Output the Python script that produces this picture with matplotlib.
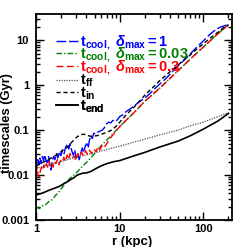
import matplotlib
matplotlib.use('Agg')
import matplotlib.pyplot as plt
from matplotlib.lines import Line2D

plt.rcParams['font.family'] = 'Liberation Sans'
plt.rcParams['font.weight'] = 'bold'
plt.rcParams['mathtext.fontset'] = 'custom'
plt.rcParams['mathtext.rm'] = 'Liberation Sans:bold'
plt.rcParams['mathtext.it'] = 'Liberation Sans:italic:bold'
plt.rcParams['mathtext.bf'] = 'Liberation Sans:bold'

# t_cool, delta_max = 1
r_blue = [1.0, 1.02, 1.05, 1.08, 1.11, 1.15, 1.19, 1.23, 1.27, 1.31, 1.36, 1.41, 1.46, 1.51,
          1.56, 1.62, 1.68, 1.75, 1.82, 1.9, 1.98, 2.07, 2.16, 2.26, 2.36, 2.46, 2.56, 2.67,
          2.78, 2.9, 3.02, 3.15, 3.28, 3.42, 3.56, 3.72, 3.88, 4.05, 4.2, 4.35, 4.5, 4.7, 4.9,
          5.2, 5.5, 5.8, 6.2, 6.6, 7.0, 7.4, 7.8, 8.3, 8.8, 9.4, 10, 11, 12, 13.5, 15, 17, 20,
          23, 26, 30, 35, 40, 45, 50, 60, 70, 85, 100, 120, 140, 160, 180, 200]
t_blue = [0.011, 0.016, 0.022, 0.017, 0.024, 0.018, 0.026, 0.021, 0.028, 0.022, 0.019, 0.026,
          0.016, 0.013, 0.02, 0.026, 0.022, 0.03, 0.024, 0.033, 0.027, 0.036, 0.03, 0.042, 0.048,
          0.038, 0.05, 0.035, 0.028, 0.036, 0.024, 0.03, 0.022, 0.03, 0.04, 0.032, 0.045, 0.05,
          0.04, 0.06, 0.075, 0.065, 0.085, 0.082, 0.09, 0.095, 0.1, 0.115, 0.14, 0.15, 0.145,
          0.165, 0.155, 0.17, 0.2, 0.22, 0.26, 0.3, 0.35, 0.42, 0.52, 0.65, 0.82, 1.05, 1.35,
          1.75, 2.2, 2.7, 3.7, 5.0, 7.2, 9.6, 13.5, 17, 19.5, 21, 22.5]

# t_cool, delta_max = 0.03
r_green = [1.0, 1.05, 1.1, 1.15, 1.2, 1.3, 1.43, 1.55, 1.7, 1.85, 2.0, 2.16, 2.3, 2.6, 3.0,
           3.5, 4.0, 5.0, 6.0, 7.0, 8.0, 10, 15, 20, 30, 50, 70, 100, 150, 200]
t_green = [0.0018, 0.0019, 0.0018, 0.002, 0.0021, 0.0022, 0.0026, 0.0028, 0.0035, 0.0041,
           0.005, 0.006, 0.007, 0.0088, 0.011, 0.015, 0.019, 0.03, 0.045, 0.06, 0.077, 0.12,
           0.25, 0.44, 0.85, 2.1, 3.8, 7.0, 14.0, 22.0]

# t_cool, delta_max = 0.3
r_red = [1.0, 1.03, 1.06, 1.09, 1.12, 1.16, 1.2, 1.24, 1.28, 1.33, 1.38, 1.43, 1.48, 1.54, 1.6,
         1.66, 1.72, 1.8, 1.88, 1.96, 2.05, 2.15, 2.25, 2.35, 2.45, 2.55, 2.7, 2.85, 3.0, 3.15,
         3.3, 3.5, 3.7, 3.9, 4.1, 4.35, 4.6, 4.9, 5.2, 5.5, 5.8, 6.1, 6.5, 6.9, 7.5, 8.0, 10,
         15, 20, 30, 50, 70, 100, 150, 200]
t_red = [0.011, 0.015, 0.01, 0.009, 0.012, 0.015, 0.013, 0.017, 0.014, 0.018, 0.015, 0.02, 0.016,
         0.019, 0.015, 0.02, 0.018, 0.022, 0.017, 0.021, 0.019, 0.025, 0.02, 0.028, 0.022, 0.03,
         0.024, 0.027, 0.021, 0.03, 0.025, 0.032, 0.027, 0.035, 0.029, 0.036, 0.03, 0.038, 0.033,
         0.042, 0.036, 0.045, 0.04, 0.048, 0.062, 0.072, 0.12, 0.25, 0.44, 0.85, 2.1, 3.8, 7.0,
         14.0, 22.0]

# free-fall time
r_ff = [1, 2, 3, 5, 7, 10, 20, 30, 50, 70, 100, 150, 200]
t_ff = [0.014, 0.02, 0.025, 0.031, 0.037, 0.044, 0.063, 0.078, 0.1, 0.125, 0.15, 0.2, 0.245]

# inflow time
r_in = [1.0, 1.2, 1.4, 1.64, 1.9, 2.1, 2.37, 2.7, 3.1, 3.4, 3.75, 4.1, 4.5, 5.0, 5.5, 6.2, 7, 8,
        9, 10, 12, 15, 18, 20, 23, 27, 30, 35, 40, 50, 60, 70, 85, 100, 120, 150, 175, 200]
t_in = [0.016, 0.019, 0.022, 0.026, 0.031, 0.036, 0.042, 0.055, 0.071, 0.079, 0.081, 0.076,
        0.073, 0.074, 0.076, 0.082, 0.09, 0.1, 0.12, 0.15, 0.22, 0.33, 0.48, 0.6, 0.77, 1.02,
        1.25, 1.6, 2.0, 2.8, 3.8, 4.7, 6.5, 8.3, 11, 15, 19, 22]

# t_end
r_end = [1.0, 1.2, 1.43, 1.7, 1.9, 2.16, 2.4, 2.6, 2.85, 3.1, 3.6, 4.0, 4.5, 5.2, 6.0, 7.0,
         8.6, 10, 15, 20, 30, 50, 70, 100, 150, 200]
t_end = [0.0036, 0.004, 0.0046, 0.0052, 0.0056, 0.0065, 0.0072, 0.008, 0.0088, 0.01, 0.011,
         0.0112, 0.012, 0.014, 0.016, 0.018, 0.02, 0.021, 0.027, 0.032, 0.042, 0.057, 0.075,
         0.105, 0.16, 0.235]

labels = [r'$\mathrm{t_{cool,}}$ $\delta_{\mathrm{max}}\mathrm{=1}$',
          r'$\mathrm{t_{cool,}}$ $\delta_{\mathrm{max}}\mathrm{=0.03}$',
          r'$\mathrm{t_{cool,}}$ $\delta_{\mathrm{max}}\mathrm{=0.3}$',
          r'$\mathrm{t_{ff}}$', r'$\mathrm{t_{in}}$', r'$\mathrm{t_{end}}$']
colors = ['#0000ff', '#007f00', '#ff0000', '#555555', 'black', 'black']
text_colors = ['#0000ff', '#007f00', '#ff0000', 'black', 'black', 'black']
styles = [(0, (7, 2)), (0, (4, 1.5, 1, 1.5)), (0, (5, 2.5)), (0, (1, 1)), (0, (3, 2)), '-']
widths = [1.0, 1.0, 1.0, 0.9, 1.0, 1.2]

fig = plt.figure(figsize=(2.47, 2.47), dpi=100)
ax = fig.add_axes([0.146, 0.109, 0.793, 0.834])

series = [(r_blue, t_blue), (r_green, t_green), (r_red, t_red),
          (r_ff, t_ff), (r_in, t_in), (r_end, t_end)]
for (rr, tt), c, s, w in zip(series, colors, styles, widths):
    ax.plot(rr, tt, color=c, lw=w, ls=s)

ax.set_xscale('log')
ax.set_yscale('log')
ax.set_xlim(1, 220)
ax.set_ylim(0.001, 38)
ax.set_xticks([1, 10, 100])
ax.set_xticklabels(['1', '10', '100'])
ax.set_yticks([0.001, 0.01, 0.1, 1, 10])
ax.set_yticklabels(['0.001', '0.01', '0.1', '1', '10'])
ax.tick_params(which='both', direction='in', top=True, right=True, labelsize=8, width=1)
ax.tick_params(which='major', length=6)
ax.tick_params(axis='y', which='major', pad=5)
ax.tick_params(axis='x', which='major', pad=2.5)
ax.tick_params(which='minor', length=3)
for s in ax.spines.values():
    s.set_linewidth(1.3)
ax.set_xlabel('r (kpc)', fontsize=9.5, fontweight='bold')
ax.set_ylabel('timescales (Gyr)', fontsize=9.3, fontweight='bold')
ax.xaxis.set_label_coords(0.49, -0.075)
ax.yaxis.set_label_coords(-0.118, 0.47)

# one legend per row so the row spacing follows the reference
row_y = [0.858, 0.80, 0.738, 0.675, 0.614, 0.552]
for i in range(6):
    h = Line2D([], [], color=colors[i], lw=widths[i], ls=styles[i])
    leg = ax.legend([h], [labels[i]], loc='center left', bbox_to_anchor=(0.1, row_y[i]),
                    frameon=False, fontsize=10.5, handlelength=1.55, handletextpad=0.15,
                    borderaxespad=0, borderpad=0, labelcolor=text_colors[i])
    ax.add_artist(leg)

fig.savefig('out.png', dpi=100)
